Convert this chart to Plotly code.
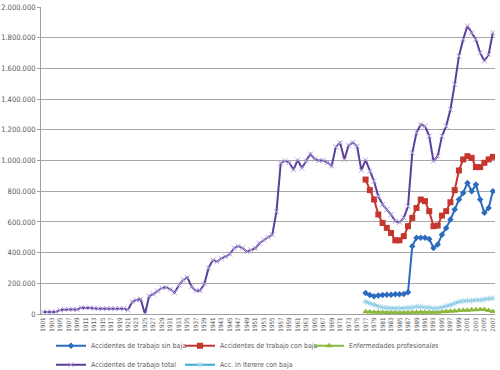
import plotly.graph_objects as go

years = [str(y) for y in range(1901, 2008)]
years_recent = [str(y) for y in range(1977, 2008)]

total = [
    13000, 13000, 13000, 13000, 26000, 30000, 30000, 30000, 30000, 41000,  # 1901-1910
    41000, 41000, 37000, 35000, 35000, 35000, 35000, 35000, 35000, 35000,  # 1911-1920
    26000, 80000, 91000, 96000, 0, 117000, 130000, 150000, 170000, 174000,  # 1921-1930
    161000, 139000, 189000, 222000, 238000, 178000, 152000, 152000, 197000, 300000,  # 1931-1940
    352000, 341000, 363000, 374000, 390000, 430000, 443000, 430000, 406000, 417000,  # 1941-1950
    428000, 461000, 483000, 500000, 515000, 667000, 983000, 998000, 987000, 939000,  # 1951-1960
    1004000, 950000, 998000, 1042000, 1009000, 1000000, 1000000, 987000, 965000, 1089000,  # 1961-1970
    1115000, 1006000, 1099000, 1117000, 1093000, 936000, 1004000, 930000, 865000, 767000,  # 1971-1980
    713000, 680000, 648000, 604000, 598000, 626000, 702000, 1050000, 1180000, 1235000,  # 1981-1990
    1224000, 1159000, 996000, 1028000, 1159000, 1224000, 1333000, 1496000, 1680000, 1789000,  # 1991-2000
    1876000, 1833000, 1789000, 1702000, 1648000, 1691000, 1833000,  # 2001-2007
]

con_baja = [
    876000, 807000, 746000, 648000, 593000, 561000, 528000, 480000, 480000, 507000,  # 1977-1986
    572000, 626000, 691000, 746000, 735000, 670000, 572000, 576000, 641000, 670000,  # 1987-1996
    728000, 807000, 935000, 1007000, 1028000, 1017000, 957000, 957000, 985000, 1007000,  # 1997-2006
    1024000,
]

sin_baja = [
    137000, 124000, 115000, 120000, 124000, 126000, 126000, 128000, 128000, 130000,
    141000, 441000, 496000, 496000, 496000, 489000, 430000, 452000, 517000, 561000,
    615000, 680000, 746000, 789000, 854000, 800000, 843000, 746000, 659000, 691000,
    800000,
]

enfermedades = [
    14000, 13000, 12000, 11000, 11000, 10000, 10000, 10000, 10000, 10000,
    10000, 11000, 12000, 12000, 12000, 12000, 11000, 12000, 14000, 16000,
    18000, 20000, 22000, 24000, 25000, 27000, 28000, 29000, 30000, 22000,
    17000,
]

in_itinere = [
    80000, 70000, 59000, 48000, 43000, 41000, 37000, 37000, 37000, 37000,
    41000, 43000, 48000, 48000, 43000, 41000, 37000, 37000, 43000, 52000,
    59000, 70000, 80000, 85000, 87000, 87000, 91000, 91000, 96000, 100000,
    102000,
]

y_ticks = list(range(0, 2000001, 200000))
y_tick_text = ["0", "200.000", "400.000", "600.000", "800.000", "1.000.000",
               "1.200.000", "1.400.000", "1.600.000", "1.800.000", "2.000.000"]
x_tick_vals = years[::2]

FONT = "DejaVu Sans Condensed, Roboto, sans-serif"
TXT = "#5a5a5a"

fig = go.Figure()

fig.add_trace(go.Scatter(
    x=years_recent, y=sin_baja, name="Accidentes de trabajo sin baja",
    mode="lines+markers",
    line=dict(color="#2b6cbf", width=2),
    marker=dict(symbol="diamond", size=5, color="#2b6cbf"),
))
fig.add_trace(go.Scatter(
    x=years_recent, y=con_baja, name="Accidentes de trabajo con baja",
    mode="lines+markers",
    line=dict(color="#c6362e", width=2),
    marker=dict(symbol="square", size=6, color="#c6362e"),
))
fig.add_trace(go.Scatter(
    x=years_recent, y=enfermedades, name="Enfermedades profesionales",
    mode="lines+markers",
    line=dict(color="#8cb83c", width=2),
    marker=dict(symbol="triangle-up", size=6, color="#8cb83c"),
))
fig.add_trace(go.Scatter(
    x=years, y=total, name="Accidentes de trabajo total",
    mode="lines+markers",
    line=dict(color="#5a3f9c", width=2),
    marker=dict(symbol="x-thin-open", size=5, color="#b7a3dc", line=dict(width=1, color="#b7a3dc")),
))
fig.add_trace(go.Scatter(
    x=years_recent, y=in_itinere, name="Acc. In Iterere con baja",
    mode="lines+markers",
    line=dict(color="#3aa8d4", width=2),
    marker=dict(symbol="asterisk-open", size=5, color="#a6d8ec", line=dict(width=1, color="#a6d8ec")),
))

fig.update_layout(
    width=500, height=370,
    margin=dict(l=41, r=5, t=7, b=56, autoexpand=False),
    paper_bgcolor="white", plot_bgcolor="white",
    font=dict(family=FONT, size=7, color=TXT),
    showlegend=True,
    legend=dict(
        orientation="h", x=0.022, xanchor="left", y=-0.056, yanchor="top",
        entrywidth=84, entrywidthmode="pixels",
        font=dict(family=FONT, size=7, color=TXT),
        itemwidth=30, tracegroupgap=0,
        bgcolor="rgba(0,0,0,0)",
    ),
    xaxis=dict(
        type="category", categoryorder="array", categoryarray=years,
        range=[-0.5, len(years) - 0.5], automargin=False,
        tickmode="array", tickvals=x_tick_vals, ticktext=x_tick_vals,
        tickangle=-90, tickfont=dict(family=FONT, size=6.2, color=TXT),
        showgrid=False, showline=True, linecolor="#a0a0a0", linewidth=1,
        ticks="", zeroline=False,
    ),
    yaxis=dict(
        range=[0, 2000000], tickmode="array", tickvals=y_ticks, ticktext=y_tick_text,
        automargin=False,
        tickfont=dict(family=FONT, size=7.5, color=TXT),
        showgrid=True, gridcolor="#a8a8a8", gridwidth=1,
        showline=True, linecolor="#a0a0a0", linewidth=1,
        ticks="outside", ticklen=3, tickcolor="#a0a0a0",
        zeroline=False,
    ),
)

fig.write_html("out.html", config={"displayModeBar": False},
               post_script="document.body.style.margin='0';")
